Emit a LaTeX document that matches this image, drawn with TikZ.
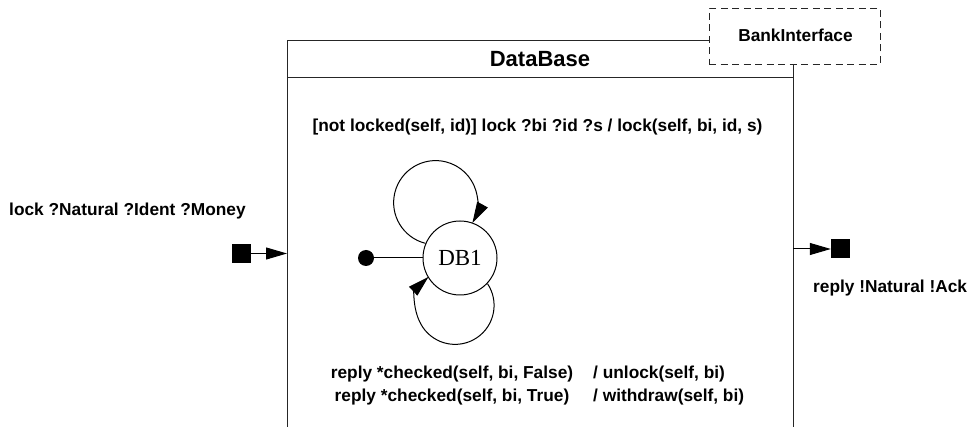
\documentclass[tikz,border=0pt]{standalone}
\usepackage{fontspec}
\setmainfont{Liberation Sans}
\newfontfamily\statefont{Liberation Serif}
\usetikzlibrary{arrows.meta}
\begin{document}
\begin{tikzpicture}[x=1pt,y=-1pt,
  frame/.style={draw=black!85, line width=1pt},
  lbl/.style={font=\fontsize{17.3}{20}\selectfont\bfseries, inner sep=0pt},
  titlelbl/.style={font=\fontsize{22}{26}\selectfont\bfseries, inner sep=0pt},
  dashbox/.style={draw=black!85, fill=white, line width=1pt,
    dash pattern=on 7pt off 4.5pt, minimum width=171pt, minimum height=56pt,
    inner sep=0pt},
  port/.style={fill=black, draw=none, minimum size=19pt, inner sep=0pt},
  statenode/.style={circle, draw=black, line width=1pt, minimum size=74pt,
    inner sep=0pt, font=\statefont\fontsize{23}{25}\selectfont},
  initdot/.style={circle, fill=black, minimum size=16pt, inner sep=0pt},
  arr/.style={line width=1pt, -{Triangle[length=21pt, width=12pt]}},
  conn/.style={line width=1pt}]
\useasboundingbox (0,0) rectangle (970,427);

% capsule outline of the DataBase component (open at the bottom)
\draw[frame] (287,427) -- (287,41) -- (793,41) -- (793,427);
\draw[frame] (287,78) -- (793,78);

% interface tab drawn over the corner
\node[dashbox] (bank) at (794.5,36.5) {};
\node[lbl, anchor=base] (banklbl) at (795.5,41.7) {BankInterface};

\node[titlelbl, anchor=base] (dbtitle) at (540,66.7) {DataBase};

% transition annotations
\node[lbl, anchor=base] (guard) at (537.5,132) {[not locked(self, id)] lock ?bi ?id ?s / lock(self, bi, id, s)};
\node[lbl, anchor=base] (trA) at (452,378.5) {reply *checked(self, bi, False)};
\node[lbl, anchor=base] (trB) at (452,401.5) {reply *checked(self, bi, True)};
\node[lbl, anchor=base west] (actA) at (593,378.5) {/ unlock(self, bi)};
\node[lbl, anchor=base west] (actB) at (593,401.5) {/ withdraw(self, bi)};

% ports
\node[lbl, anchor=base west] (inlbl) at (9,216) {lock ?Natural ?Ident ?Money};
\node[port] (pin) at (241.5,253.5) {};
\coordinate (inE) at (287,253.5);
\draw[arr] (pin) -- (inE);

\node[lbl, anchor=base west] (outlbl) at (813,293) {reply !Natural !Ack};
\node[port] (pout) at (840.5,249) {};
\coordinate (outW) at (793,249);
\draw[arr] (outW) -- (pout);

% state machine
\node[statenode] (db1) at (460,258) {DB1};
\node[initdot] (init) at (366,258) {};
\draw[conn] (init) -- (db1);

\draw[arr] (db1.157) arc[start angle=104, end angle=389, radius=42];
\draw[arr] (db1.-43) arc[start angle=-34, end angle=227, radius=39];
\end{tikzpicture}
\end{document}
